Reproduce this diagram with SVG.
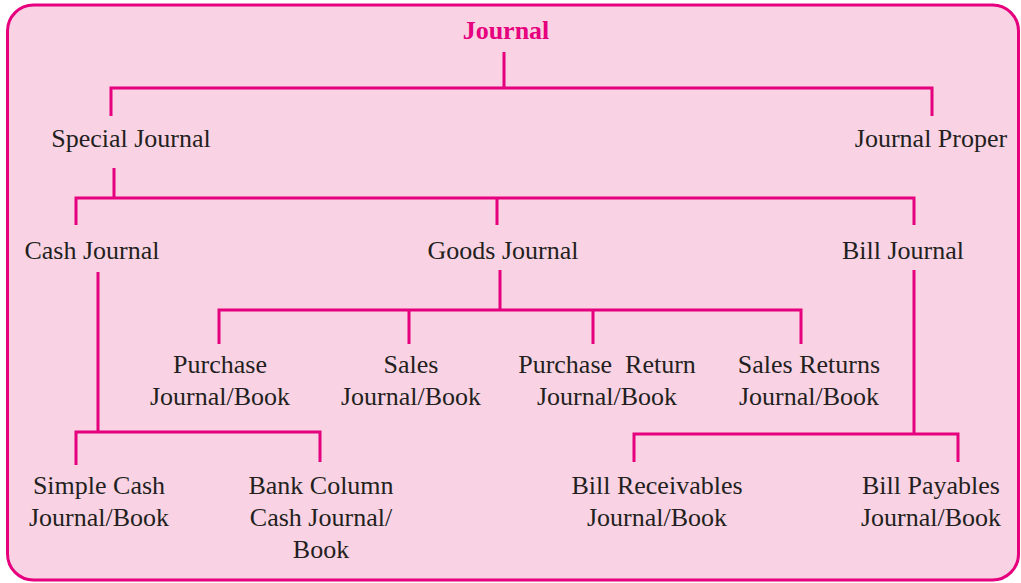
<svg xmlns="http://www.w3.org/2000/svg" width="1021" height="583" viewBox="0 0 1021 583">
<style>
.t{font-family:"Liberation Serif","Times New Roman",serif;font-size:26px;fill:#231F20;text-anchor:middle}
.h{font-family:"Liberation Serif","Times New Roman",serif;font-size:26px;font-weight:bold;fill:#E6007E;text-anchor:middle}
.c{fill:none;stroke:#E6007E;stroke-width:3}
</style>
<rect x="7.5" y="5" width="1011" height="575" rx="26" ry="26" fill="#F9D3E4" stroke="#E6007E" stroke-width="3"/>
<g id="connectors" class="c">
<path d="M504 52V88M111 116V88H932V116"/>
<path d="M114 168V198M76 225V198H914V225M497 198V225"/>
<path d="M98 272V432M76 465V432H320V462"/>
<path d="M500 270V310M219 344V310H801V344M409 310V344M593 310V344"/>
<path d="M914 270V434M634 462V434H958V462"/>
</g>
<g id="journal"><text class="h" x="506" y="39">Journal</text></g>
<g id="special"><text class="t" x="131" y="147">Special Journal</text></g>
<g id="proper"><text class="t" x="931" y="147">Journal Proper</text></g>
<g id="cash"><text class="t" x="92" y="259">Cash Journal</text></g>
<g id="goods"><text class="t" x="503" y="259">Goods Journal</text></g>
<g id="bill"><text class="t" x="903" y="259">Bill Journal</text></g>
<g id="purchase"><text class="t" x="220" y="373">Purchase</text><text class="t" x="220" y="405">Journal/Book</text></g>
<g id="sales"><text class="t" x="411" y="373">Sales</text><text class="t" x="411" y="405">Journal/Book</text></g>
<g id="purchasereturn"><text class="t" x="607" y="373" xml:space="preserve">Purchase  Return</text><text class="t" x="607" y="405">Journal/Book</text></g>
<g id="salesreturns"><text class="t" x="809" y="373">Sales Returns</text><text class="t" x="809" y="405">Journal/Book</text></g>
<g id="simplecash"><text class="t" x="99" y="494">Simple Cash</text><text class="t" x="99" y="526">Journal/Book</text></g>
<g id="bankcolumn"><text class="t" x="321" y="494">Bank Column</text><text class="t" x="321" y="526">Cash Journal/</text><text class="t" x="321" y="558">Book</text></g>
<g id="billrec"><text class="t" x="657" y="494">Bill Receivables</text><text class="t" x="657" y="526">Journal/Book</text></g>
<g id="billpay"><text class="t" x="931" y="494">Bill Payables</text><text class="t" x="931" y="526">Journal/Book</text></g>
</svg>
